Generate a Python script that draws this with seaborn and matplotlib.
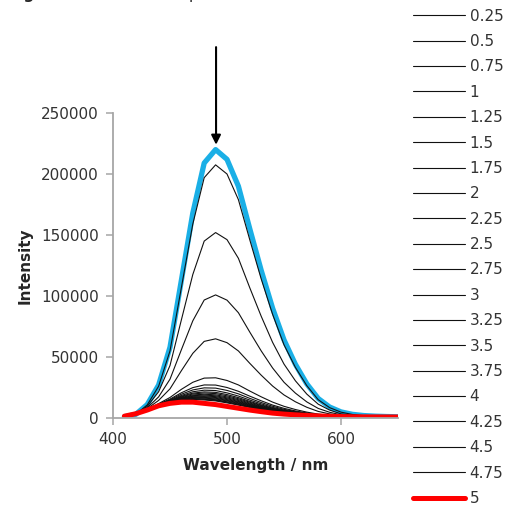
import matplotlib
matplotlib.use("Agg")
import matplotlib.pyplot as plt
import seaborn as sns
import pandas as pd

# ---------------- data ----------------
wavelength = [410, 420, 430, 440, 450, 460, 470, 480, 490, 500, 510, 520, 530,
              540, 550, 560, 570, 580, 590, 600, 610, 620, 630, 640, 650]

conc_labels = ["0", "0.25", "0.5", "0.75", "1", "1.25", "1.5", "1.75", "2", "2.25",
               "2.5", "2.75", "3", "3.25", "3.5", "3.75", "4", "4.25", "4.5", "4.75", "5"]

i_0 = [1000, 3000, 11000, 27000, 58000, 113000, 168000, 209000, 220000, 212000, 190000,
       155000, 121000, 90000, 64000, 44000, 28000, 16000, 9000, 5000, 3000, 2000, 1500, 1200, 1000]
i_025 = [1000, 3000, 10700, 26000, 55000, 107000, 159000, 197000, 207500, 200000, 179000,
         146000, 114000, 85000, 60000, 41500, 26500, 15000, 8500, 4800, 2900, 1900, 1400, 1100, 950]
i_05 = [1200, 3200, 9500, 21500, 43000, 80500, 117600, 145000, 152000, 146200, 130900,
        106700, 83400, 62000, 44200, 30500, 19600, 11350, 6500, 3400, 2350, 1660, 1300, 1100, 935]
i_075 = [1300, 3300, 8400, 17300, 31800, 56000, 79650, 96700, 100900, 96600, 86300,
         70400, 55000, 41000, 29300, 20400, 13200, 7850, 4700, 2600, 1860, 1400, 1160, 1000, 890]
i_1 = [1370, 3370, 7660, 14400, 23900, 38800, 53000, 62800, 64900, 61750, 54960,
       44800, 35100, 26200, 18900, 13300, 8800, 5400, 3360, 2050, 1520, 1220, 1055, 940, 850]
i_125 = [1450, 3450, 6970, 11790, 16830, 23500, 29280, 32700, 32950, 30760, 27110,
         22090, 17360, 13030, 9580, 6950, 4820, 3200, 2200, 1550, 1210, 1060, 960, 890, 820]
i_15 = [1500, 3500, 6800, 11300, 15500, 20700, 24900, 27100, 27000, 25000, 21900,
        17900, 14100, 10600, 7900, 5800, 4100, 2800, 2000, 1500, 1200, 1000, 950, 880, 820]
i_175 = [1500, 3500, 6800, 11100, 15000, 19500, 23000, 24700, 24500, 22600, 19800,
         16100, 12700, 9600, 7100, 5300, 3800, 2600, 1900, 1400, 1100, 1000, 940, 870, 810]
i_2 = [1500, 3500, 6700, 10900, 14500, 18500, 21500, 22800, 22500, 20600, 18000,
       14700, 11600, 8700, 6500, 4900, 3500, 2500, 1800, 1400, 1100, 1000, 930, 870, 810]
i_225 = [1500, 3500, 6700, 10800, 14200, 17800, 20400, 21400, 21000, 19200, 16700,
         13600, 10700, 8100, 6100, 4600, 3300, 2400, 1800, 1400, 1100, 1000, 930, 870, 810]
i_25 = [1500, 3500, 6700, 10700, 14000, 17300, 19700, 20500, 20000, 18200, 15800,
        12900, 10200, 7700, 5800, 4400, 3200, 2300, 1700, 1300, 1100, 1000, 930, 860, 810]
i_275 = [1500, 3500, 6700, 10700, 13800, 16800, 18900, 19500, 19000, 17300, 15000,
         12200, 9600, 7300, 5500, 4200, 3100, 2200, 1700, 1300, 1100, 990, 920, 860, 810]
i_3 = [1500, 3500, 6700, 10600, 13600, 16400, 18300, 18800, 18200, 16500, 14300,
       11600, 9200, 7000, 5300, 4000, 3000, 2200, 1700, 1300, 1100, 990, 920, 860, 810]
i_325 = [1500, 3500, 6600, 10500, 13400, 16100, 17800, 18100, 17500, 15800, 13600,
         11100, 8800, 6700, 5100, 3900, 2900, 2100, 1600, 1300, 1100, 980, 920, 860, 810]
i_35 = [1500, 3500, 6600, 10500, 13300, 15800, 17300, 17500, 16800, 15100, 13100,
        10600, 8400, 6400, 4900, 3800, 2800, 2100, 1600, 1300, 1100, 980, 920, 860, 810]
i_375 = [1500, 3500, 6600, 10400, 13100, 15500, 16900, 16900, 16200, 14500, 12500,
         10200, 8100, 6100, 4700, 3600, 2700, 2100, 1600, 1300, 1000, 980, 910, 860, 800]
i_4 = [1500, 3500, 6600, 10400, 13000, 15200, 16400, 16300, 15600, 14000, 12000,
       9800, 7700, 5900, 4500, 3500, 2700, 2000, 1600, 1300, 1000, 970, 910, 860, 800]
i_425 = [1500, 3500, 6600, 10300, 12900, 14900, 15900, 15700, 15000, 13300, 11500,
         9300, 7400, 5600, 4400, 3400, 2600, 2000, 1500, 1300, 1000, 970, 910, 860, 800]
i_45 = [1500, 3500, 6600, 10300, 12800, 14700, 15600, 15300, 14500, 12900, 11000,
        9000, 7100, 5400, 4200, 3300, 2500, 1900, 1500, 1300, 1000, 970, 910, 860, 800]
i_475 = [1500, 3500, 6600, 10200, 12700, 14400, 15200, 14800, 14000, 12400, 10600,
         8600, 6900, 5200, 4100, 3200, 2500, 1900, 1500, 1200, 1000, 970, 910, 860, 800]
i_5 = [1500, 3500, 6500, 10000, 12000, 13000, 13000, 12000, 11000, 9500, 8000,
       6500, 5200, 4000, 3200, 2600, 2100, 1700, 1400, 1200, 1000, 950, 900, 850, 800]

series = [i_0, i_025, i_05, i_075, i_1, i_125, i_15, i_175, i_2, i_225, i_25,
          i_275, i_3, i_325, i_35, i_375, i_4, i_425, i_45, i_475, i_5]

y_ticks = [0, 50000, 100000, 150000, 200000, 250000]
x_ticks = [400, 500, 600]

# ---------------- figure ----------------
sns.set_style("white")
plt.rcParams["font.family"] = ["DejaVu Sans"]

W, H = 510, 505
fig = plt.figure(figsize=(W / 100, H / 100), dpi=100)
ax = fig.add_axes([113 / W, (H - 418) / H, 285 / W, 305 / H])

rows = []
for lab, vals in zip(conc_labels, series):
    for w, v in zip(wavelength, vals):
        rows.append({"Wavelength": w, "Intensity": v, "conc": lab})
df = pd.DataFrame(rows)

handles = []
for lab in conc_labels:
    sub = df[df["conc"] == lab]
    if lab == "0":
        color, lw = "#1AAFE6", 3.8
    elif lab == "5":
        color, lw = "#FF0000", 3.6
    else:
        color, lw = "#111111", 0.8
    sns.lineplot(data=sub, x="Wavelength", y="Intensity", color=color,
                 linewidth=lw, ax=ax, legend=False, solid_joinstyle="round")
    handles.append(plt.Line2D([], [], color=color, linewidth=lw, label=lab))

ax.set_xlim(400, 650)
ax.set_ylim(0, 250000)
ax.set_xticks(x_ticks)
ax.set_xticklabels([str(t) for t in x_ticks])
ax.set_yticks(y_ticks)
ax.set_yticklabels([str(t) for t in y_ticks])

spine_col = "#A6A6A6"
for s in ["top", "right"]:
    ax.spines[s].set_visible(False)
for s in ["left", "bottom"]:
    ax.spines[s].set_color(spine_col)
    ax.spines[s].set_linewidth(1.3)
ax.tick_params(axis="both", direction="out", length=5, width=1.1, color=spine_col,
               labelsize=11, labelcolor="#333333", pad=5,
               bottom=True, left=True)

ax.set_xlabel("Wavelength / nm", fontsize=11, fontweight="bold", labelpad=8)
ax.set_ylabel("Intensity", fontsize=11, fontweight="bold", labelpad=6)

# arrow marking the decrease
ax.annotate("", xy=(490.4, 224000), xytext=(490.4, 304000),
            xycoords="data", textcoords="data", annotation_clip=False,
            arrowprops=dict(arrowstyle="-|>", color="black", lw=1.5,
                            mutation_scale=14, shrinkA=0, shrinkB=0))

# legend (first entry falls above the visible area, as in the reference)
leg = fig.legend(handles=handles, loc="lower left",
                 bbox_to_anchor=(413 / W, -1 / H), bbox_transform=fig.transFigure,
                 frameon=False, fontsize=11, handlelength=3.4, handletextpad=0.3,
                 labelspacing=0.68, borderpad=0, borderaxespad=0)
for t in leg.get_texts():
    t.set_color("#333333")

# cropped caption above the chart
fig.text(8 / W, 1 + 1 / H, "Figure 3.", fontsize=11, fontweight="bold",
         va="baseline", ha="left")
fig.text(181 / W, 1 + 1 / H, "spectra", fontsize=11, va="baseline", ha="left")

fig.savefig("out.png", dpi=100)
